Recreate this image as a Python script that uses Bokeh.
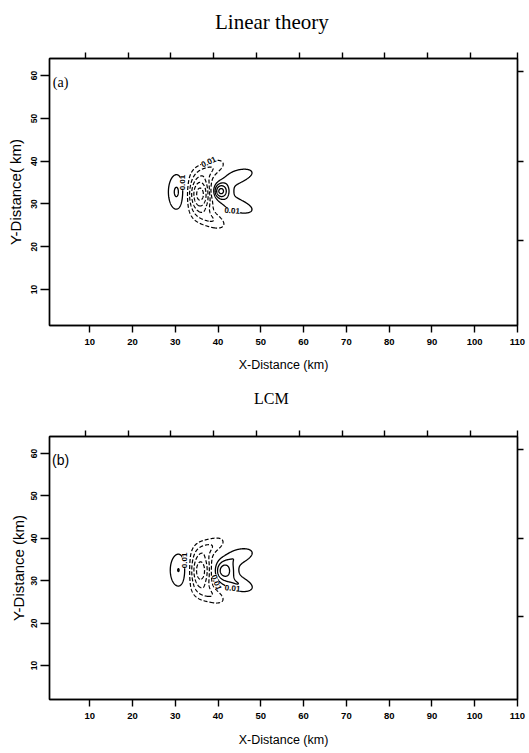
import numpy as np
from bokeh.plotting import figure
from bokeh.layouts import column
from bokeh.models import LinearAxis, FixedTicker, Label, Range1d, Div
from bokeh.embed import file_html
from bokeh.resources import INLINE

# ---------------- data ----------------
x_ticks = [10, 20, 30, 40, 50, 60, 70, 80, 90, 100, 110]
y_ticks = [10, 20, 30, 40, 50, 60]
top_ticks = [9, 19, 29, 39, 49, 59, 69, 79, 89, 99, 110]
right_ticks = [21.5, 40, 61]

pos_levels = [0.01, 0.02, 0.03, 0.04]
neg_levels = [-0.05, -0.04, -0.03, -0.02, -0.01]

# field components (centre x, centre y [km], amplitude, sigma major, sigma minor [km], tilt [deg])
a_cx = [40.5, 42.8, 45.2, 45.2, 35.8, 38.8, 38.8, 30.4]
a_cy = [33.0, 33.0, 36.7, 29.3, 32.3, 38.4, 26.2, 32.8]
a_amp = [0.040, 0.008, 0.016, 0.016, -0.055, -0.018, -0.018, 0.022]
a_sx = [1.3, 2.4, 2.8, 2.8, 1.9, 2.6, 2.6, 1.6]
a_sy = [1.3, 3.2, 1.2, 1.2, 3.2, 1.4, 1.4, 3.3]
a_ang = [0, 0, 15, -15, 0, 25, -25, 0]

b_cx = [41.3, 43.2, 45.3, 45.3, 35.9, 38.8, 38.8, 30.9]
b_cy = [32.4, 32.4, 36.0, 29.0, 32.4, 38.3, 26.5, 32.5]
b_amp = [0.030, 0.008, 0.016, 0.016, -0.047, -0.017, -0.017, 0.021]
b_sx = [1.6, 2.4, 2.7, 2.7, 1.8, 2.6, 2.6, 1.7]
b_sy = [1.6, 3.2, 1.3, 1.3, 3.4, 1.4, 1.4, 3.2]
b_ang = [0, 0, 15, -15, 0, 25, -25, 0]

# contour labels
a_lab_x = [37.8, 43.3, 31.7]
a_lab_y = [39.8, 28.4, 35.0]
a_lab_ang = [25, -5, 90]
a_lab_txt = ["0.01", "0.01", "0.01"]

b_lab_x = [39.6, 43.4, 32.2]
b_lab_y = [29.6, 28.2, 34.8]
b_lab_ang = [-70, -5, 90]
b_lab_txt = ["0.01", "0.01", "0.01"]

titles = ["Linear theory", "LCM"]


def field(cx, cy, amp, sx, sy, ang, X, Y):
    Z = np.zeros_like(X)
    for x0, y0, a, s1, s2, t in zip(cx, cy, amp, sx, sy, ang):
        r = np.deg2rad(t)
        dx, dy = X - x0, Y - y0
        u = dx * np.cos(r) + dy * np.sin(r)
        v = -dx * np.sin(r) + dy * np.cos(r)
        Z += a * np.exp(-(u ** 2 / (2 * s1 ** 2) + v ** 2 / (2 * s2 ** 2)))
    return Z


def bare_axis(ticks):
    return LinearAxis(ticker=FixedTicker(ticks=ticks), major_label_text_font_size="1px",
                      major_label_text_color=None, major_tick_out=6, major_tick_in=0,
                      minor_tick_out=0, minor_tick_in=0, axis_line_width=1.4,
                      major_tick_line_width=1.4, major_label_standoff=0)


def title_div(k, size, top, left):
    html = ('<div style="position:relative; top:%dpx; left:%dpx; font-family:\'Liberation Serif\';'
            ' font-size:%dpx; line-height:%dpx; white-space:nowrap; color:black;">%s</div>'
            % (top, left, size, size, titles[k]))
    return Div(text=html, width=527, height=40, margin=0)


def panel(ylabel, ylab_standoff, tag, tag_font, comps, labs, height, btop, bbot, yr,
          xlab_standoff):
    p = figure(width=527, height=height, x_range=Range1d(0.6, 110), y_range=Range1d(*yr),
               min_border_left=49, min_border_right=10, min_border_top=btop,
               min_border_bottom=bbot, output_backend="svg", toolbar_location=None,
               title=None)
    p.grid.visible = False
    p.outline_line_color = "black"
    p.outline_line_width = 1.4
    p.background_fill_color = "white"
    p.border_fill_color = "white"

    xa = p.xaxis[0]
    xa.ticker = FixedTicker(ticks=x_ticks)
    xa.major_tick_out = 7
    xa.major_tick_in = 0
    xa.minor_tick_out = 0
    xa.minor_tick_in = 0
    xa.axis_line_width = 1.4
    xa.major_tick_line_width = 1.4
    xa.major_label_text_font = "Liberation Sans"
    xa.major_label_text_font_size = "9.5px"
    xa.major_label_text_font_style = "bold"
    xa.major_label_text_color = "black"
    xa.major_label_standoff = 6
    xa.axis_label = "X-Distance (km)"
    xa.axis_label_text_font = "Liberation Sans"
    xa.axis_label_text_font_size = "12.5px"
    xa.axis_label_text_font_style = "normal"
    xa.axis_label_text_color = "black"
    xa.axis_label_standoff = xlab_standoff

    ya = p.yaxis[0]
    ya.ticker = FixedTicker(ticks=y_ticks)
    ya.major_tick_out = 9
    ya.major_tick_in = 0
    ya.minor_tick_out = 0
    ya.minor_tick_in = 0
    ya.axis_line_width = 1.4
    ya.major_tick_line_width = 1.4
    ya.major_label_orientation = "vertical"
    ya.major_label_text_font = "Liberation Sans"
    ya.major_label_text_font_size = "8.5px"
    ya.major_label_text_font_style = "bold"
    ya.major_label_text_color = "black"
    ya.major_label_standoff = 3
    ya.axis_label = ylabel
    ya.axis_label_text_font = "Liberation Sans"
    ya.axis_label_text_font_size = "15px"
    ya.axis_label_text_font_style = "normal"
    ya.axis_label_text_color = "black"
    ya.axis_label_standoff = ylab_standoff

    p.add_layout(bare_axis(top_ticks), "above")
    p.add_layout(bare_axis(right_ticks), "right")

    xs = np.arange(20.0, 60.0, 0.1)
    ys = np.arange(15.0, 50.0, 0.1)
    X, Y = np.meshgrid(xs, ys)
    Z = field(*comps, X, Y)
    p.contour(xs, ys, Z, levels=neg_levels, line_color="black", line_width=1.2,
              line_dash="4 2")
    p.contour(xs, ys, Z, levels=pos_levels, line_color="black", line_width=1.3)

    for lx, ly, la, lt in zip(*labs):
        p.add_layout(Label(x=lx, y=ly, text=lt, angle=np.deg2rad(la), text_font="Liberation Sans",
                           text_font_size="8px", text_font_style="bold", text_color="black",
                           text_align="center", text_baseline="middle",
                           background_fill_color="white", background_fill_alpha=1.0))

    p.add_layout(Label(x=3.2, y=58.4, text=tag, text_font=tag_font, text_font_size="14px",
                       text_color="black", text_align="center", text_baseline="middle"))
    return p


ta = title_div(0, 21, 12, 215)
pa = panel("Y-Distance( km)", 5, "(a)", "Liberation Serif",
           (a_cx, a_cy, a_amp, a_sx, a_sy, a_ang),
           (a_lab_x, a_lab_y, a_lab_ang, a_lab_txt),
           338, 18, 53, (1.6, 64.0), 10)
tb = title_div(1, 16, 13, 254)
pb = panel("Y-Distance (km)", 2, "(b)", "Liberation Sans",
           (b_cx, b_cy, b_amp, b_sx, b_sy, b_ang),
           (b_lab_x, b_lab_y, b_lab_ang, b_lab_txt),
           335, 18, 54, (2.0, 64.0), 11)

layout = column(ta, pa, tb, pb, spacing=0)
open("out.html", "w").write(file_html(layout, INLINE))
